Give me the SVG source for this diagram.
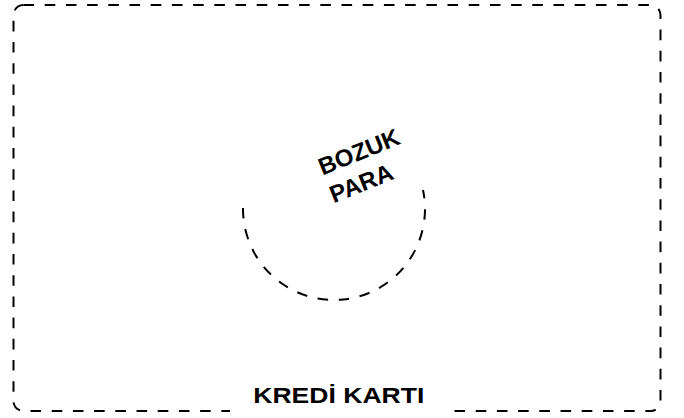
<svg xmlns="http://www.w3.org/2000/svg" width="684" height="418" viewBox="0 0 684 418">
  <style>
    .dash { fill: none; stroke: #000; stroke-width: 2; stroke-dasharray: 10.6 10.6; }
    .lbl { font-family: "Liberation Sans", Arial, sans-serif; font-weight: bold; fill: #000; }
  </style>
  <rect width="684" height="418" fill="#fff"/>
  <g id="kredi-karti">
    <rect class="dash" x="13.5" y="5" width="647" height="406" rx="10" ry="10"/>
    <rect x="230" y="380" width="214" height="38" fill="#fff"/>
    <text class="lbl" x="253.3" y="403" font-size="22" textLength="171" lengthAdjust="spacingAndGlyphs">KREDİ KARTI</text>
  </g>
  <g id="bozuk-para">
    <path class="dash" d="M 243 208 A 91 91 0 1 0 423 190"/>
    <g transform="translate(322.5,175.5) rotate(-22)">
      <text class="lbl" x="0" y="0" font-size="24">BOZUK</text>
      <text class="lbl" x="0" y="30" font-size="24">PARA</text>
    </g>
  </g>
</svg>
